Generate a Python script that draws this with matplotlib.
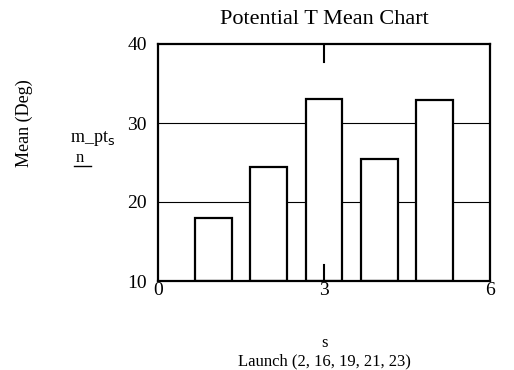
import matplotlib
matplotlib.use('Agg')
import matplotlib.pyplot as plt
from matplotlib.lines import Line2D
import numpy as np

plt.rcParams['font.family'] = ['Liberation Serif', 'DejaVu Serif']

# Data
launch_index = [1, 2, 3, 4, 5]
mean_deg = [18.0, 24.4, 33.0, 25.4, 32.9]
y_ticks = [10, 20, 30, 40]
x_ticks = [0, 3, 6]

fig = plt.figure(figsize=(5.14, 3.70), dpi=100)
ax = fig.add_axes([158 / 514, 1 - 281 / 370, 332 / 514, 237 / 370])

ax.bar(launch_index, np.array(mean_deg) - 10, bottom=10, width=0.66,
       facecolor='white', edgecolor='black', linewidth=1.6, zorder=2)

ax.set_xlim(0, 6)
ax.set_ylim(10, 40)

# horizontal grid at 20 and 30
for g in [20, 30]:
    ax.axhline(g, color='black', linewidth=0.8, zorder=1)

ax.set_yticks(y_ticks)
ax.set_xticks(x_ticks)
ax.tick_params(axis='y', length=0, labelsize=14, pad=8)
ax.tick_params(axis='x', length=0, labelsize=14, pad=1)
# inward ticks at x=3 on top and bottom
ax.plot([3, 3], [40, 37.7], color='black', linewidth=1.5, zorder=3)
ax.plot([3, 3], [10, 12], color='black', linewidth=1.5, zorder=3)

for side in ['left', 'right', 'top', 'bottom']:
    ax.spines[side].set_linewidth(1.6)

cx = 0.5 * (158 + 490) / 514
fig.text(cx, 1 - 20 / 370, 'Potential T Mean Chart',
         ha='center', va='center', fontsize=16)
fig.text(24 / 514, 1 - 123 / 370, 'Mean (Deg)', rotation=90,
         ha='center', va='center', fontsize=13)
fig.text(70 / 514, 1 - 138 / 370, r'm_pt$_{\mathrm{s}}$',
         ha='left', va='center', fontsize=13)
fig.text(76 / 514, 1 - 158 / 370, 'n', ha='left', va='center', fontsize=12)
fig.add_artist(Line2D([74 / 514, 91 / 514], [1 - 166 / 370, 1 - 166 / 370],
                      color='black', linewidth=1.0))
fig.text(cx, 1 - 343 / 370, 's', ha='center', va='center', fontsize=12)
fig.text(cx, 1 - 361 / 370, 'Launch (2, 16, 19, 21, 23)',
         ha='center', va='center', fontsize=12)

fig.savefig('out.png', dpi=100)
